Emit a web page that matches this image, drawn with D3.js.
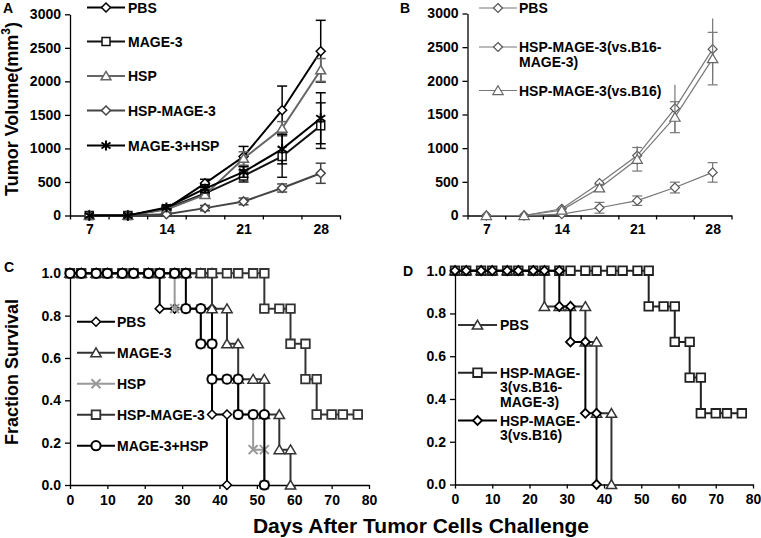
<!DOCTYPE html>
<html>
<head>
<meta charset="utf-8">
<script src="https://cdn.jsdelivr.net/npm/d3@7"></script>
<style>
  body { margin: 0; background: #fff; }
  text { font-family: "Liberation Sans", Arial, sans-serif; font-weight: bold; fill: #000; }
</style>
</head>
<body>
<div id="chart"></div>
<script>
// ---- data: tumour growth (A, B) ----
const growthDays = [7, 10.5, 14, 17.5, 21, 24.5, 28];
const growthLabels = [7, 14, 21, 28];
const volumeTicks = [0, 500, 1000, 1500, 2000, 2500, 3000];

const pbsVolA      = [0, 0, 100, 480, 880, 1570, 2450];
const pbsErrA      = [0, 0, 20, 60, 150, 360, 460];
const mageVolA     = [0, 0, 100, 330, 590, 880, 1340];
const mageErrA     = [0, 0, 20, 50, 90, 310, 340];
const hspVolA      = [0, 0, 90, 310, 850, 1300, 2170];
const hspErrA      = [0, 0, 20, 50, 100, 100, 170];
const hspMageVolA  = [0, 0, 20, 110, 210, 410, 630];
const hspMageErrA  = [0, 0, 10, 40, 50, 60, 150];
const mageHspVolA  = [0, 0, 120, 400, 650, 990, 1450];
const mageHspErrA  = [0, 0, 20, 60, 80, 220, 380];

const pbsVolB      = [0, 0, 100, 480, 890, 1590, 2470];
const pbsErrB      = [0, 0, 20, 50, 140, 350, 455];
const vsB16MVolB   = [0, 0, 20, 115, 220, 415, 640];
const vsB16MErrB   = [0, 0, 10, 80, 70, 80, 145];
const vsB16VolB    = [0, 0, 80, 410, 835, 1460, 2330];
const vsB16ErrB    = [0, 0, 20, 50, 175, 230, 390];

// ---- data: survival (C, D) ----
const survivalTicks = [0, 0.2, 0.4, 0.6, 0.8, 1.0];
const dayTicks = [0, 10, 20, 30, 40, 50, 60, 70, 80];

const pbsDaysC     = [0, 3, 7, 10, 14, 17, 21, 24, 24, 28, 31, 35, 38, 38, 42, 42];
const pbsSurvC     = [1, 1, 1, 1, 1, 1, 1, 1, .833, .833, .833, .833, .833, .333, .333, 0];
const mageDaysC    = [0, 3, 7, 10, 14, 17, 21, 24, 28, 31, 35, 38, 38, 42, 42, 45, 45, 49, 52, 52, 56, 56, 59, 59];
const mageSurvC    = [1, 1, 1, 1, 1, 1, 1, 1, 1, 1, 1, 1, .833, .833, .667, .667, .5, .5, .5, .333, .333, .167, .167, 0];
const hspDaysC     = [0, 3, 7, 10, 14, 17, 21, 24, 28, 28, 31, 35, 35, 38, 38, 42, 45, 45, 49, 49, 52, 52];
const hspSurvC     = [1, 1, 1, 1, 1, 1, 1, 1, 1, .833, .833, .833, .667, .667, .5, .5, .5, .333, .333, .167, .167, 0];
const hspMageDaysC = [0, 3, 7, 10, 14, 17, 21, 24, 28, 31, 35, 38, 42, 45, 49, 52, 52, 56, 59, 59, 63, 63, 66, 66, 70, 73, 77];
const hspMageSurvC = [1, 1, 1, 1, 1, 1, 1, 1, 1, 1, 1, 1, 1, 1, 1, 1, .833, .833, .833, .667, .667, .5, .5, .333, .333, .333, .333];
const mageHspDaysC = [0, 3, 7, 10, 14, 17, 21, 24, 28, 31, 31, 35, 35, 38, 38, 42, 45, 45, 49, 52, 52];
const mageHspSurvC = [1, 1, 1, 1, 1, 1, 1, 1, 1, 1, .833, .833, .667, .667, .5, .5, .5, .333, .333, .333, 0];

const pbsDaysD     = [0, 3, 7, 10, 14, 17, 21, 24, 24, 28, 31, 35, 35, 38, 38, 42, 42];
const pbsSurvD     = [1, 1, 1, 1, 1, 1, 1, 1, .833, .833, .833, .833, .667, .667, .333, .333, 0];
const vsB16MDaysD  = hspMageDaysC;
const vsB16MSurvD  = hspMageSurvC;
const vsB16DaysD   = [0, 3, 7, 10, 14, 17, 21, 24, 28, 28, 31, 31, 35, 35, 38, 38];
const vsB16SurvD   = [1, 1, 1, 1, 1, 1, 1, 1, 1, .833, .833, .667, .667, .333, .333, 0];

// ---- drawing ----
const svg = d3.select('#chart').append('svg')
  .attr('width', 761).attr('height', 538);

const shapes = {
  diamond: r => `M0,${-r}L${r},0L0,${r}L${-r},0Z`,
  square: r => `M${-r},${-r}H${r}V${r}H${-r}Z`,
  triangle: r => `M0,${-r * 1.05}L${r * 1.15},${r * 0.9}L${-r * 1.15},${r * 0.9}Z`,
  circle: r => `M${r},0A${r},${r} 0 1,1 ${-r},0A${r},${r} 0 1,1 ${r},0Z`,
  star: r => `M0,${-r}V${r}M${-r * .9},${-r * .6}L${r * .9},${r * .6}M${r * .9},${-r * .6}L${-r * .9},${r * .6}`,
  cross: r => `M${-r},${-r}L${r},${r}M${r},${-r}L${-r},${r}`
};

function drawMarker(g, s, x, y) {
  const open = s.shape !== 'star' && s.shape !== 'cross';
  g.append('path')
    .attr('transform', `translate(${x},${y})`)
    .attr('d', shapes[s.shape](s.r))
    .attr('fill', open ? '#fff' : 'none')
    .attr('stroke', s.mcolor || s.color)
    .attr('stroke-width', s.mw || 1.5);
}

function drawLegend(g, items, x0, x1, tx, rows) {
  items.forEach((s, i) => {
    const y = rows[i];
    g.append('line').attr('x1', x0).attr('x2', x1).attr('y1', y).attr('y2', y)
      .attr('stroke', s.color).attr('stroke-width', s.lw);
    drawMarker(g, s, (x0 + x1) / 2, y);
    const lines = s.label.split('\n');
    lines.forEach((t, k) => {
      g.append('text').attr('x', tx).attr('y', y + k * 14.5)
        .attr('dy', '0.36em').attr('font-size', 14).text(t);
    });
  });
}

function styleAxis(ax) {
  ax.select('.domain').attr('stroke', '#000').attr('stroke-width', 1.3);
  ax.selectAll('.tick line').attr('stroke', '#000').attr('stroke-width', 1.3);
  ax.selectAll('text').attr('font-size', 14).attr('font-family', '"Liberation Sans", Arial, sans-serif')
    .attr('font-weight', 'bold');
}

function growthPanel(xr, yr, series, legend) {
  const x = d3.scaleLinear().domain([5.25, 29.75]).range(xr);
  const y = d3.scaleLinear().domain([0, 3000]).range(yr);
  const g = svg.append('g');

  const bounds = d3.range(0, 8).map(i => 5.25 + 3.5 * i);
  styleAxis(g.append('g').attr('transform', `translate(0,${yr[0]})`)
    .call(d3.axisBottom(x).tickValues(bounds).tickFormat('').tickSize(4).tickSizeOuter(0)));
  const lab = g.append('g').attr('transform', `translate(0,${yr[0]})`)
    .call(d3.axisBottom(x).tickValues(growthLabels).tickSize(0).tickPadding(9));
  lab.select('.domain').remove();
  styleAxis(lab);
  styleAxis(g.append('g').attr('transform', `translate(${xr[0]},0)`)
    .call(d3.axisLeft(y).tickValues(volumeTicks).tickFormat(d3.format('d'))
      .tickSize(5).tickPadding(4).tickSizeOuter(0)));

  const line = d3.line().x((d, i) => x(growthDays[i])).y(d => y(d));
  series.forEach(s => {
    const eg = g.append('g').attr('stroke', s.color).attr('stroke-width', s.ew || 1.5);
    s.vals.forEach((v, i) => {
      const e = s.err[i];
      if (!e) return;
      const xx = x(growthDays[i]);
      eg.append('line').attr('x1', xx).attr('x2', xx).attr('y1', y(v - e)).attr('y2', y(v + e));
      if (s.caps) {
        [v - e, v + e].forEach(w => eg.append('line')
          .attr('x1', xx - 5).attr('x2', xx + 5).attr('y1', y(w)).attr('y2', y(w)));
      }
    });
    g.append('path').datum(s.vals).attr('d', line).attr('fill', 'none')
      .attr('stroke', s.color).attr('stroke-width', s.lw);
    s.vals.forEach((v, i) => drawMarker(g, s, x(growthDays[i]), y(v)));
  });
  drawLegend(g, series, legend.x0, legend.x1, legend.tx, legend.rows);
}

function survivalPanel(xr, yr, series, legend) {
  const x = d3.scaleLinear().domain([0, 80]).range(xr);
  const y = d3.scaleLinear().domain([0, 1]).range(yr);
  const g = svg.append('g');

  styleAxis(g.append('g').attr('transform', `translate(0,${yr[0]})`)
    .call(d3.axisBottom(x).tickValues(dayTicks).tickSize(4).tickPadding(6).tickSizeOuter(0)));
  styleAxis(g.append('g').attr('transform', `translate(${xr[0]},0)`)
    .call(d3.axisLeft(y).tickValues(survivalTicks).tickFormat(d3.format('.1f'))
      .tickSize(5).tickPadding(4).tickSizeOuter(0)));

  series.forEach(s => {
    const pts = s.days.map((d, i) => [d, s.surv[i]]);
    g.append('path').datum(pts)
      .attr('d', d3.line().x(d => x(d[0])).y(d => y(d[1])))
      .attr('fill', 'none').attr('stroke', s.color).attr('stroke-width', s.lw);
    pts.forEach(p => drawMarker(g, s, x(p[0]), y(p[1])));
  });
  drawLegend(g, series, legend.x0, legend.x1, legend.tx, legend.rows);
}

// Panel A
growthPanel([70, 340], [215.5, 14.3], [
  { label: 'PBS', vals: pbsVolA, err: pbsErrA, shape: 'diamond', r: 4.5, color: '#000', lw: 2, caps: true },
  { label: 'MAGE-3', vals: mageVolA, err: mageErrA, shape: 'square', r: 4, color: '#111', lw: 2, caps: true },
  { label: 'HSP', vals: hspVolA, err: hspErrA, shape: 'triangle', r: 4.3, color: '#666', lw: 2, caps: true },
  { label: 'HSP-MAGE-3', vals: hspMageVolA, err: hspMageErrA, shape: 'diamond', r: 4.5, color: '#444', lw: 2, caps: true },
  { label: 'MAGE-3+HSP', vals: mageHspVolA, err: mageHspErrA, shape: 'star', r: 5, color: '#000', lw: 2, mw: 2, caps: true }
], { x0: 87, x1: 125, tx: 128, rows: [7.5, 41.5, 76, 110.5, 145.5] });

// Panel B
growthPanel([467.5, 731.5], [215.5, 13.5], [
  { label: 'PBS', vals: pbsVolB, err: pbsErrB, shape: 'diamond', r: 4.5, color: '#777', mcolor: '#555', lw: 1.2, ew: 1.2, mw: 1.2, caps: false },
  { label: 'HSP-MAGE-3(vs.B16-\nMAGE-3)', vals: vsB16MVolB, err: vsB16MErrB, shape: 'diamond', r: 4.5, color: '#777', mcolor: '#555', lw: 1.2, ew: 1.2, mw: 1.2, caps: true },
  { label: 'HSP-MAGE-3(vs.B16)', vals: vsB16VolB, err: vsB16ErrB, shape: 'triangle', r: 4.5, color: '#777', mcolor: '#666', lw: 1.2, ew: 1.2, mw: 1.2, caps: true }
], { x0: 479, x1: 517, tx: 519, rows: [8, 47, 90.5] });

// Panel C
survivalPanel([70, 369], [485, 273.3], [
  { label: 'PBS', days: pbsDaysC, surv: pbsSurvC, shape: 'diamond', r: 4.5, color: '#000', lw: 2 },
  { label: 'MAGE-3', days: mageDaysC, surv: mageSurvC, shape: 'triangle', r: 4.5, color: '#333', lw: 2 },
  { label: 'HSP', days: hspDaysC, surv: hspSurvC, shape: 'cross', r: 4.5, color: '#999', lw: 2, mw: 2 },
  { label: 'HSP-MAGE-3', days: hspMageDaysC, surv: hspMageSurvC, shape: 'square', r: 4.3, color: '#333', lw: 2, mw: 1.8 },
  { label: 'MAGE-3+HSP', days: mageHspDaysC, surv: mageHspSurvC, shape: 'circle', r: 4.6, color: '#000', lw: 2, mw: 2 }
], { x0: 77, x1: 115, tx: 117, rows: [321.7, 352.7, 383.7, 414.7, 445.7] });

// Panel D
survivalPanel([455, 753], [484.5, 270.7], [
  { label: 'PBS', days: pbsDaysD, surv: pbsSurvD, shape: 'triangle', r: 4.5, color: '#333', lw: 2 },
  { label: 'HSP-MAGE-\n3(vs.B16-\nMAGE-3)', days: vsB16MDaysD, surv: vsB16MSurvD, shape: 'square', r: 4.3, color: '#222', lw: 2, mw: 1.8 },
  { label: 'HSP-MAGE-\n3(vs.B16)', days: vsB16DaysD, surv: vsB16SurvD, shape: 'diamond', r: 4.5, color: '#000', lw: 2, mw: 1.8 }
], { x0: 458, x1: 497, tx: 500, rows: [325, 372.7, 420.5] });

// titles and panel letters
svg.append('text').attr('transform', 'translate(18,109) rotate(-90)')
  .attr('text-anchor', 'middle').attr('font-size', 18)
  .call(t => {
    t.append('tspan').text('Tumor Volume(mm');
    t.append('tspan').attr('font-size', 12).attr('dy', -8).text('3');
    t.append('tspan').attr('dy', 8).text(')');
  });
svg.append('text').attr('transform', 'translate(18,372) rotate(-90)')
  .attr('text-anchor', 'middle').attr('font-size', 18).text('Fraction Survival');
svg.append('text').attr('x', 421).attr('y', 533).attr('text-anchor', 'middle')
  .attr('font-size', 21).text('Days After Tumor Cells Challenge');

[['A', 3, 13], ['B', 400, 13], ['C', 4, 272], ['D', 403, 276]].forEach(p => {
  svg.append('text').attr('x', p[1]).attr('y', p[2]).attr('font-size', 14).text(p[0]);
});
</script>
</body>
</html>
